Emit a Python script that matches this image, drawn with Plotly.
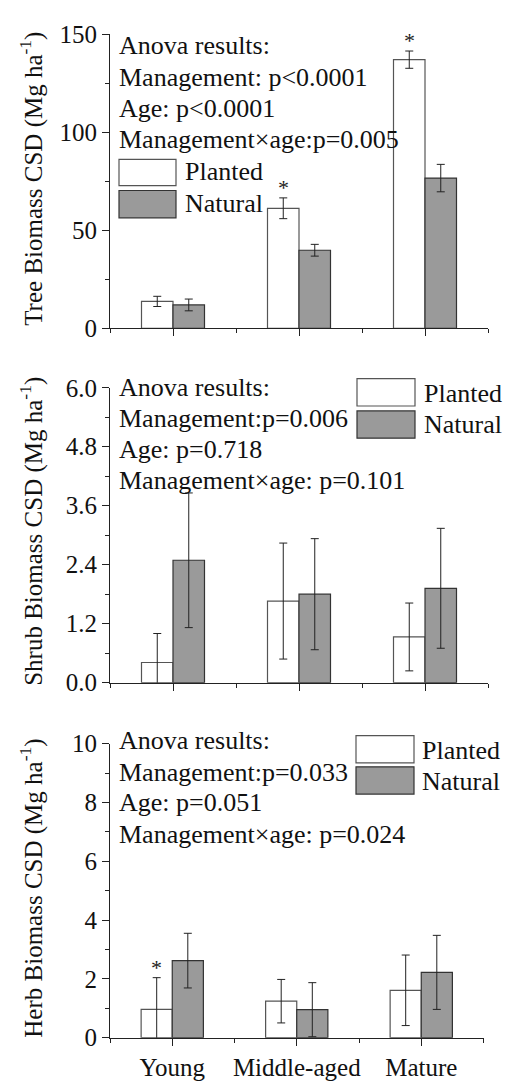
import plotly.graph_objects as go

W, H = 506, 1088

categories = ["Young", "Middle-aged", "Mature"]
series_names = ["Planted", "Natural"]

tree_planted = [13.7, 61.2, 137.0]
tree_planted_err = [2.6, 5.3, 4.4]
tree_natural = [11.9, 39.8, 76.6]
tree_natural_err = [3.0, 3.0, 7.0]
tree_star_planted = [False, True, True]

shrub_planted = [0.41, 1.66, 0.93]
shrub_planted_err = [0.59, 1.18, 0.69]
shrub_natural = [2.49, 1.80, 1.92]
shrub_natural_err = [1.37, 1.13, 1.22]
shrub_star_planted = [False, False, False]

herb_planted = [0.96, 1.24, 1.61]
herb_planted_err = [1.08, 0.74, 1.20]
herb_natural = [2.62, 0.95, 2.22]
herb_natural_err = [0.93, 0.92, 1.26]
herb_star_planted = [True, False, False]

tree_text = ["Anova results:", "Management: p<0.0001", "Age: p<0.0001", "Management×age:p=0.005"]
shrub_text = ["Anova results:", "Management:p=0.006", "Age: p=0.718", "Management×age: p=0.101"]
herb_text = ["Anova results:", "Management:p=0.033", "Age: p=0.051", "Management×age: p=0.024"]

tree_title = "Tree Biomass CSD (Mg ha<sup>-1</sup>)"
shrub_title = "Shrub Biomass CSD (Mg ha<sup>-1</sup>)"
herb_title = "Herb Biomass CSD (Mg ha<sup>-1</sup>)"

FONT = "Liberation Serif, Times New Roman, serif"
FS = 25
FS_TXT = 26
PLANT_FILL = "#ffffff"
NAT_FILL = "#9a9a9a"

def px(x):
    return x / W

def py(y):
    return 1 - y / H

xpos = list(range(len(categories)))

panels = [
    dict(p=tree_planted, pe=tree_planted_err, n=tree_natural, ne=tree_natural_err, star=tree_star_planted,
         xd=[110, 488], yd=[323.3, 21.7], yr=[0, 150], dtick=50, minor=25, fmt="d",
         text=tree_text, text_y=[33.5, 66, 98, 130], title=tree_title, title_y=170,
         leg_box=[119, 176], leg_y=[[150, 177], [182, 210]], leg_tx=183, leg_ty=[163, 195]),
    dict(p=shrub_planted, pe=shrub_planted_err, n=shrub_natural, ne=shrub_natural_err, star=shrub_star_planted,
         xd=[110, 488], yd=[686.7, 384.3], yr=[0, 6], dtick=1.2, minor=0.6, fmt=".1f",
         text=shrub_text, text_y=[384, 416, 447.5, 479], title=shrub_title, title_y=532,
         leg_box=[357, 415], leg_y=[[375, 403], [408, 436]], leg_tx=422, leg_ty=[390, 422]),
    dict(p=herb_planted, pe=herb_planted_err, n=herb_natural, ne=herb_natural_err, star=herb_star_planted,
         xd=[110, 483.5], yd=[1050.7, 749.3], yr=[0, 10], dtick=2, minor=1, fmt="d",
         text=herb_text, text_y=[746, 778.5, 810, 842.5], title=herb_title, title_y=898,
         leg_box=[356, 414], leg_y=[[741, 769], [773, 801]], leg_tx=420, leg_ty=[756, 788]),
]

fig = go.Figure()
annotations = []
shapes = []

for i, pnl in enumerate(panels, start=1):
    xa = "x" if i == 1 else f"x{i}"
    ya = "y" if i == 1 else f"y{i}"
    for name, vals, errs, fill, lc in [("Planted", pnl["p"], pnl["pe"], PLANT_FILL, "#555555"),
                                       ("Natural", pnl["n"], pnl["ne"], NAT_FILL, "#333333")]:
        fig.add_trace(go.Bar(
            x=xpos, y=vals, name=name, xaxis=xa, yaxis=ya, showlegend=False,
            marker=dict(color=fill, line=dict(color=lc, width=1.2)),
            error_y=dict(type="data", array=errs, visible=True, color="#222222", thickness=1, width=4),
            offsetgroup=name,
        ))
    for j, s in enumerate(pnl["star"]):
        if s:
            annotations.append(dict(
                x=xpos[j] - 0.125, y=pnl["p"][j] + pnl["pe"][j], xref=xa, yref=ya,
                text="*", showarrow=False, yanchor="bottom", yshift=-4,
                font=dict(family=FONT, size=22, color="#222222")))
    for t, ty in zip(pnl["text"], pnl["text_y"]):
        annotations.append(dict(
            x=px(117), y=py(ty), xref="paper", yref="paper", text=t, showarrow=False,
            xanchor="left", yanchor="middle", font=dict(family=FONT, size=FS_TXT, color="#111111")))
    for k, (nm, fill, lc) in enumerate([("Planted", PLANT_FILL, "#555555"), ("Natural", NAT_FILL, "#333333")]):
        y0, y1 = pnl["leg_y"][k]
        shapes.append(dict(type="rect", xref="paper", yref="paper",
                           x0=px(pnl["leg_box"][0]), x1=px(pnl["leg_box"][1]),
                           y0=py(y1), y1=py(y0), fillcolor=fill, line=dict(color=lc, width=1.2)))
        annotations.append(dict(
            x=px(pnl["leg_tx"]), y=py(pnl["leg_ty"][k]), xref="paper", yref="paper", text=nm,
            showarrow=False, xanchor="left", yanchor="middle",
            font=dict(family=FONT, size=FS_TXT, color="#111111")))
    annotations.append(dict(
        x=px(32), y=py(pnl["title_y"]), xref="paper", yref="paper", text=pnl["title"],
        showarrow=False, textangle=-90, xanchor="center", yanchor="middle",
        font=dict(family=FONT, size=FS, color="#111111")))

    ticks_y = []
    v = pnl["yr"][0]
    while v <= pnl["yr"][1] + 1e-9:
        ticks_y.append(round(v, 4))
        v += pnl["dtick"]
    xaxis = dict(
        domain=[px(pnl["xd"][0]), px(pnl["xd"][1])], range=[-0.5, 2.5], anchor=ya,
        tickvals=xpos, showticklabels=(i == 3), ticks="outside", ticklen=7, tickwidth=1, tickcolor="#222222",
        minor=dict(tickvals=[-0.5, 0.5, 1.5, 2.5], ticks="outside", ticklen=4, tickwidth=1, tickcolor="#222222"),
        showline=True, linecolor="#222222", linewidth=1, showgrid=False, zeroline=False,
        tickfont=dict(family=FONT, size=FS, color="#111111"), fixedrange=True,
    )
    if i == 3:
        xaxis["ticktext"] = categories
    yaxis = dict(
        domain=[py(pnl["yd"][0]), py(pnl["yd"][1])], range=pnl["yr"], anchor=xa,
        tickvals=ticks_y, tickformat=pnl["fmt"], ticks="outside", ticklen=7, tickwidth=1, tickcolor="#222222",
        minor=dict(dtick=pnl["dtick"], tick0=pnl["minor"], ticks="outside", ticklen=4, tickwidth=1,
                   tickcolor="#222222"),
        showline=True, linecolor="#222222", linewidth=1, showgrid=False, zeroline=False,
        tickfont=dict(family=FONT, size=FS, color="#111111"), fixedrange=True,
    )
    fig.update_layout(**{("xaxis" if i == 1 else f"xaxis{i}"): xaxis,
                         ("yaxis" if i == 1 else f"yaxis{i}"): yaxis})

fig.update_layout(
    width=W, height=H, margin=dict(l=0, r=0, t=0, b=0),
    paper_bgcolor="white", plot_bgcolor="white",
    barmode="group", bargap=0.5, bargroupgap=0,
    annotations=annotations, shapes=shapes,
    font=dict(family=FONT, size=FS, color="#111111"),
)

fig.write_html("out.html", config={"displayModeBar": False},
               post_script="document.body.style.margin='0px';document.body.style.overflow='hidden';")
